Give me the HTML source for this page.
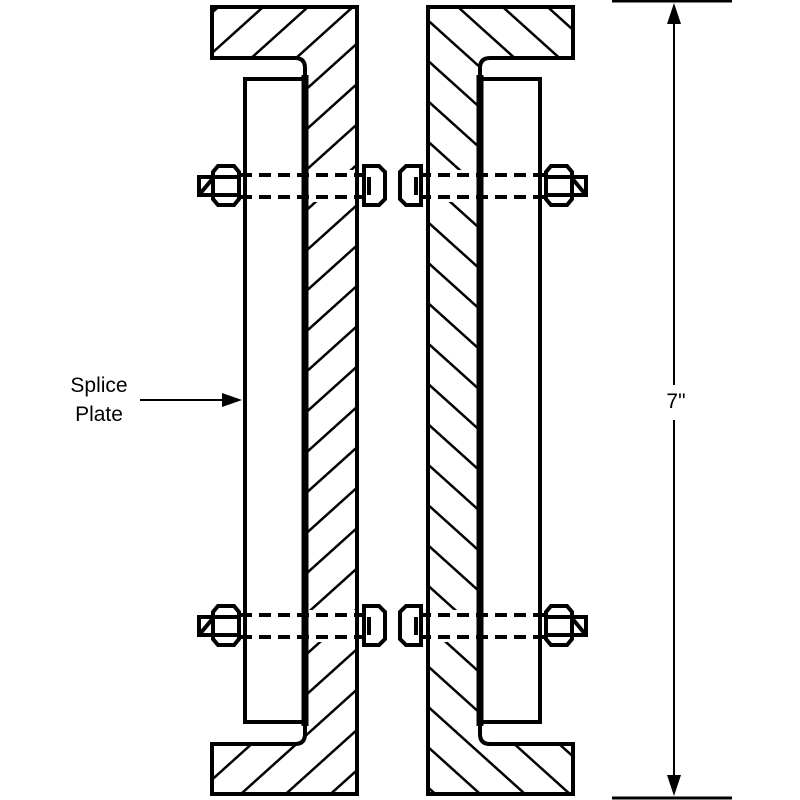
<!DOCTYPE html>
<html><head><style>html,body{margin:0;padding:0;background:#fff}svg{display:block}</style></head>
<body>
<svg width="800" height="800" viewBox="0 0 800 800" xmlns="http://www.w3.org/2000/svg">
<defs>
<clipPath id="cl"><path d="M212,7 H357 V794 H212 V744 H295 Q305,744 305,734 V68 Q305,58 295,58 H212 Z"/></clipPath>
<clipPath id="cr"><path d="M573,7 H428 V794 H573 V744 H490 Q480,744 480,734 V68 Q480,58 490,58 H573 Z"/></clipPath>
<pattern id="hl" width="30" height="30" patternUnits="userSpaceOnUse" patternTransform="rotate(48)"><line x1="0" y1="0" x2="0" y2="30" stroke="#000" stroke-width="5"/></pattern>
<pattern id="hr" width="30" height="30" patternUnits="userSpaceOnUse" patternTransform="rotate(-48)"><line x1="0" y1="0" x2="0" y2="30" stroke="#000" stroke-width="5"/></pattern>
<g id="bolt">
  <rect x="307" y="170" width="50" height="32" fill="#fff" clip-path="url(#cl)"/>
  <g stroke="#000" stroke-width="4" fill="none">
    <line x1="240" y1="175" x2="362" y2="175" stroke-dasharray="12,7"/>
    <line x1="240" y1="197" x2="362" y2="197" stroke-dasharray="12,7"/>
    <rect x="199" y="177" width="40" height="18" fill="#fff"/>
    <line x1="199" y1="195" x2="214" y2="177"/>
    <path d="M218,166 H234 L239,172 V199 L234,205 H218 L213,199 V172 Z" fill="#fff"/>
    <line x1="213" y1="177" x2="239" y2="177"/><line x1="213" y1="195" x2="239" y2="195"/>
    <path d="M364,166 H379 L385,172 V199 L379,205 H364 Z" fill="#fff"/>
    <line x1="369" y1="177" x2="369" y2="195"/>
  </g>
</g>
</defs>
<rect x="200" y="0" width="170" height="800" fill="url(#hl)" clip-path="url(#cl)"/>
<rect x="420" y="0" width="170" height="800" fill="url(#hr)" clip-path="url(#cr)"/>
<use href="#bolt"/>
<use href="#bolt" transform="translate(0,440)"/>
<g transform="translate(785,0) scale(-1,1)">
  <use href="#bolt"/>
  <use href="#bolt" transform="translate(0,440)"/>
</g>
<g fill="none" stroke="#000" stroke-width="4">
<path d="M212,7 H357 V794 H212 V744 H295 Q305,744 305,734 V68 Q305,58 295,58 H212 Z"/>
<path d="M573,7 H428 V794 H573 V744 H490 Q480,744 480,734 V68 Q480,58 490,58 H573 Z"/>
<path d="M303,79 H245 V722 H303"/>
<path d="M482,79 H540 V722 H482"/>
<line x1="305" y1="75" x2="305" y2="726" stroke-width="7"/>
<line x1="480" y1="75" x2="480" y2="726" stroke-width="7"/>
</g>
<g stroke="#000">
<line x1="612" y1="1" x2="732" y2="1" stroke-width="3"/>
<line x1="612" y1="798" x2="732" y2="798" stroke-width="3"/>
<line x1="674" y1="15" x2="674" y2="385" stroke-width="2"/>
<line x1="674" y1="420" x2="674" y2="785" stroke-width="2"/>
<line x1="140" y1="400" x2="230" y2="400" stroke-width="2"/>
</g>
<polygon points="674,3 667,24 681,24" fill="#000"/>
<polygon points="674,796 667,775 681,775" fill="#000"/>
<polygon points="242,400 222,393 222,407" fill="#000"/>
<g font-family="Liberation Sans, sans-serif" font-size="21" fill="#000">
<text x="99" y="392" text-anchor="middle">Splice</text>
<text x="99" y="421" text-anchor="middle">Plate</text>
<text x="676" y="408" text-anchor="middle">7"</text>
</g>
</svg>
</body></html>
